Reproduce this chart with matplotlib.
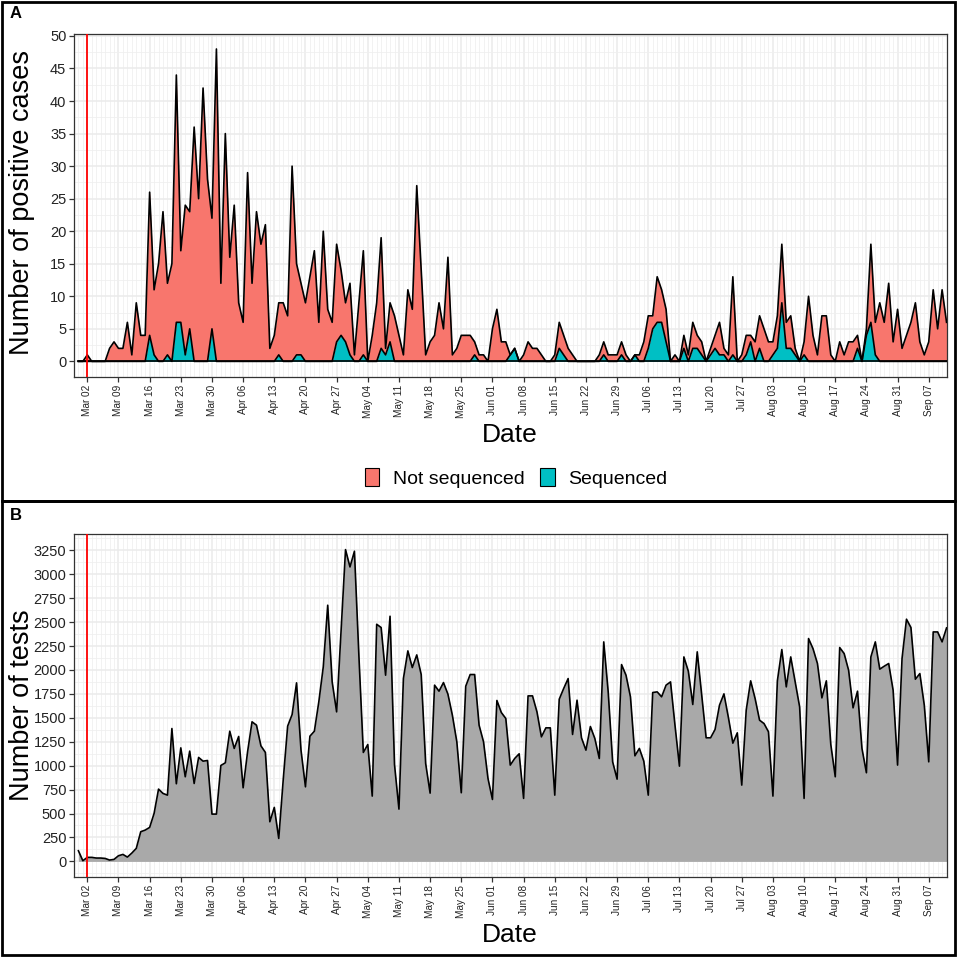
import numpy as np
import pandas as pd
import matplotlib
matplotlib.use("Agg")
import matplotlib.pyplot as plt
import matplotlib.dates as mdates
from matplotlib.ticker import MultipleLocator
from matplotlib.patches import Rectangle, Patch

plt.rcParams['font.family'] = ['Liberation Sans', 'DejaVu Sans']

# one value per day, 2020-02-29 .. 2020-09-11
dates = pd.date_range("2020-02-29", "2020-09-11", freq="D")

# daily positive cases (total of both groups)
positive = [0, 0, 1, 0, 0, 0, 0,
            2, 3, 2, 2, 6, 1, 9,
            4, 4, 26, 11, 15, 23, 12,
            15, 44, 17, 24, 23, 36, 25,
            42, 28, 22, 48, 12, 35, 16,
            24, 9, 6, 29, 12, 23, 18,
            21, 2, 4, 9, 9, 7, 30,
            15, 12, 9, 13, 17, 6, 20,
            8, 6, 18, 14, 9, 12, 1,
            9, 17, 0, 4, 9, 19, 2,
            9, 7, 4, 1, 11, 8, 27,
            14, 1, 3, 4, 9, 5, 16,
            1, 2, 4, 4, 4, 3, 1,
            1, 0, 5, 8, 3, 3, 1,
            2, 0, 1, 3, 2, 2, 1,
            0, 0, 1, 6, 4, 2, 1,
            0, 0, 0, 0, 0, 1, 3,
            1, 1, 1, 3, 1, 0, 1,
            1, 3, 7, 7, 13, 11, 8,
            0, 1, 0, 4, 1, 6, 4,
            3, 0, 2, 4, 6, 2, 1,
            13, 0, 1, 4, 4, 3, 7,
            5, 3, 3, 7, 18, 6, 7,
            2, 0, 3, 10, 4, 1, 7,
            7, 1, 0, 3, 1, 3, 3,
            4, 0, 5, 18, 6, 9, 6,
            12, 3, 8, 2, 4, 6, 9,
            3, 1, 3, 11, 5, 11, 6]

# daily positive cases that were sequenced
sequenced = [0, 0, 0, 0, 0, 0, 0,
             0, 0, 0, 0, 0, 0, 0,
             0, 0, 4, 1, 0, 0, 1,
             0, 6, 6, 1, 5, 0, 0,
             0, 0, 5, 0, 0, 0, 0,
             0, 0, 0, 0, 0, 0, 0,
             0, 0, 0, 1, 0, 0, 0,
             1, 1, 0, 0, 0, 0, 0,
             0, 0, 3, 4, 3, 1, 0,
             0, 1, 0, 0, 0, 2, 1,
             3, 0, 0, 0, 0, 0, 0,
             0, 0, 0, 0, 0, 0, 0,
             0, 0, 0, 0, 0, 1, 0,
             0, 0, 0, 0, 0, 0, 1,
             2, 0, 0, 0, 0, 0, 0,
             0, 0, 0, 2, 1, 0, 0,
             0, 0, 0, 0, 0, 0, 1,
             0, 0, 0, 1, 0, 0, 1,
             0, 0, 2, 5, 6, 6, 3,
             0, 0, 0, 2, 0, 2, 2,
             1, 0, 1, 2, 1, 1, 0,
             1, 0, 0, 1, 3, 0, 2,
             0, 0, 1, 2, 9, 2, 2,
             1, 0, 1, 0, 0, 0, 0,
             0, 0, 0, 0, 0, 0, 0,
             2, 0, 4, 6, 1, 0, 0,
             0, 0, 0, 0, 0, 0, 0,
             0, 0, 0, 0, 0, 0, 0]

# daily number of tests
tests = [111, 7, 42, 42, 35, 35, 31,
         14, 21, 59, 73, 45, 87, 136,
         310, 327, 355, 501, 755, 710, 692,
         1388, 811, 1186, 884, 1152, 814, 1086,
         1047, 1054, 494, 494, 1002, 1030, 1360,
         1180, 1305, 769, 1145, 1458, 1423, 1207,
         1138, 414, 564, 240, 850, 1413, 1534,
         1865, 1162, 779, 1308, 1360, 1667, 2032,
         2676, 1875, 1562, 2400, 3257, 3076, 3240,
         2150, 1138, 1221, 682, 2477, 2443, 1945,
         2561, 1012, 546, 1910, 2199, 2025, 2157,
         1952, 1023, 713, 1841, 1778, 1868, 1747,
         1527, 1249, 717, 1830, 1952, 1952, 1423,
         1249, 866, 647, 1681, 1555, 1493, 1006,
         1075, 1124, 658, 1729, 1729, 1562, 1301,
         1395, 1395, 692, 1694, 1806, 1910, 1326,
         1684, 1291, 1162, 1409, 1284, 1075, 2293,
         1771, 1040, 859, 2056, 1945, 1719, 1103,
         1180, 1047, 692, 1764, 1771, 1719, 1841,
         1875, 1423, 995, 2136, 1987, 1639, 2189,
         1736, 1291, 1291, 1378, 1632, 1750, 1503,
         1235, 1343, 797, 1580, 1886, 1701, 1475,
         1440, 1354, 682, 1886, 2213, 1823, 2136,
         1875, 1614, 658, 2328, 2223, 2067, 1708,
         1886, 1221, 884, 2234, 2171, 1997, 1604,
         1778, 1180, 926, 2136, 2293, 2008, 2039,
         2067, 1788, 1006, 2119, 2530, 2443, 1903,
         1962, 1632, 1040, 2397, 2397, 2293, 2439]

marker_date = pd.Timestamp("2020-03-02")
legend_labels = ["Not sequenced", "Sequenced"]

SALMON = "#F8766D"
TEAL = "#00BFC4"
GREY = "#A9A9A9"
W = 957.0

positive = np.array(positive)
sequenced = np.array(sequenced)
tests = np.array(tests)

fig = plt.figure(figsize=(9.57, 9.57), dpi=100)
axA = fig.add_axes([74 / W, 1 - 377 / W, 873 / W, 343 / W])
axB = fig.add_axes([74 / W, 1 - 877 / W, 873 / W, 343 / W])

x0 = mdates.date2num(marker_date)


def style(ax, ymaj, ymin, ylim):
    ax.set_xlim(x0 - 2.99, x0 + 193.1)
    ax.set_ylim(*ylim)
    ax.xaxis.set_major_locator(mdates.WeekdayLocator(byweekday=mdates.MO))
    ax.xaxis.set_minor_locator(mdates.DayLocator())
    ax.xaxis.set_major_formatter(mdates.DateFormatter("%b %d"))
    ax.yaxis.set_major_locator(MultipleLocator(ymaj))
    ax.yaxis.set_minor_locator(MultipleLocator(ymin))
    ax.set_axisbelow(True)
    ax.grid(which="major", color="#EBEBEB", lw=1.1)
    ax.grid(which="minor", color="#EFEFEF", lw=0.55)
    for s in ax.spines.values():
        s.set_color("#333333")
        s.set_linewidth(0.9)
    ax.tick_params(which="major", direction="out", length=3.5, color="#333333", width=0.9)
    ax.tick_params(which="minor", length=0)
    ax.tick_params(axis="x", labelsize=7.2, labelrotation=90, labelcolor="#222222", pad=2)
    ax.tick_params(axis="y", labelsize=10.5, labelcolor="#222222", pad=2)
    ax.axvline(marker_date, color="red", lw=1.3, zorder=5)


# panel A
axA.fill_between(dates, 0, sequenced, color=TEAL, lw=0, zorder=2)
axA.fill_between(dates, sequenced, positive, color=SALMON, lw=0, zorder=2)
axA.plot(dates, np.zeros(len(dates)), color="black", lw=1.2, zorder=3)
axA.plot(dates, sequenced, color="black", lw=1.2, zorder=3)
axA.plot(dates, positive, color="black", lw=1.2, zorder=3)
style(axA, 5, 2.5, (-2.4, 50.3))

# panel B
axB.fill_between(dates, 0, tests, color=GREY, lw=0, zorder=2)
axB.plot(dates, tests, color="black", lw=1.2, zorder=3)
style(axB, 250, 125, (-163, 3420))

# axis titles
fig.text(22 / W, 1 - 202 / W, "Number of positive cases", rotation=90,
         ha="center", va="center", fontsize=19.5)
fig.text(22 / W, 1 - 705 / W, "Number of tests", rotation=90,
         ha="center", va="center", fontsize=19.5)
fig.text(510 / W, 1 - 442 / W, "Date", ha="center", va="baseline", fontsize=19)
fig.text(510 / W, 1 - 942 / W, "Date", ha="center", va="baseline", fontsize=19)

# panel tags
fig.text(10 / W, 1 - 14 / W, "A", fontsize=12, fontweight="bold", ha="left", va="center")
fig.text(10 / W, 1 - 516 / W, "B", fontsize=12, fontweight="bold", ha="left", va="center")

handles = [Patch(facecolor=SALMON, edgecolor="black", lw=0.8, label=legend_labels[0]),
           Patch(facecolor=TEAL, edgecolor="black", lw=0.8, label=legend_labels[1])]
fig.legend(handles=handles, loc="center", bbox_to_anchor=(516 / W, 1 - 478 / W),
           ncol=2, frameon=False, fontsize=14, handlelength=0.75, handleheight=1.0,
           handletextpad=0.7, columnspacing=0.8, borderpad=0)

# panel frames (top panel: rows 2..501, bottom panel: rows 501..955)
fig.add_artist(Rectangle((2 / W, 1 - 501 / W), 953 / W, 499 / W, transform=fig.transFigure,
                         fill=False, ec="black", lw=2))
fig.add_artist(Rectangle((2 / W, 2 / W), 953 / W, 454 / W, transform=fig.transFigure,
                         fill=False, ec="black", lw=2))

fig.savefig("out.png", dpi=100)
